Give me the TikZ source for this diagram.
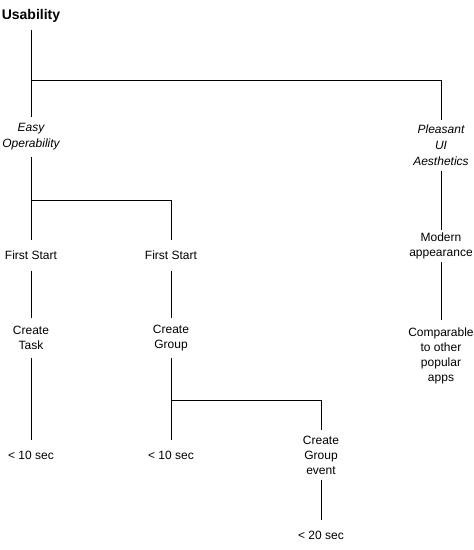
\documentclass[tikz,border=0pt]{standalone}
\usepackage{fontspec}
\setmainfont{Liberation Sans}
\tikzset{
  lbl/.style={align=center, inner sep=0pt, font=\fontsize{12}{15}\selectfont},
  crit/.style={lbl, font=\fontsize{12}{16}\selectfont\itshape},
  link/.style={line width=0.9pt}
}

\begin{document}
\begin{tikzpicture}[x=1pt,y=-1pt]
            \useasboundingbox (0,0) rectangle (474,550);
            \node[lbl,font=\fontsize{14}{16}\selectfont\bfseries,minimum height=28pt] (use) at (31,16) {Usability};
            \node[crit,minimum height=40pt] (easy) at (31,137) {Easy\\Operability};
            \node[crit,minimum height=50pt] (pleasant) at (441,145.5) {Pleasant\\UI\\Aesthetics};
            \node[lbl,minimum height=32pt] (modern) at (441,246) {Modern\\appearance};
            \node[lbl,minimum height=72pt] (comp) at (441,356) {Comparable\\to other\\popular\\apps};
            \node[lbl,minimum height=30pt] (fs1) at (31,255.5) {First Start};
            \node[lbl,minimum height=30pt] (fs2) at (171,255.5) {First Start};
            \node[lbl,minimum height=40pt] (task) at (31,338) {Create\\Task};
            \node[lbl,minimum height=40pt] (group) at (171,338) {Create\\Group};
            \node[lbl,minimum height=30pt] (t1) at (31,455.5) {< 10 sec};
            \node[lbl,minimum height=30pt] (t2) at (171,455.5) {< 10 sec};
            \node[lbl,minimum height=50pt] (event) at (321,455) {Create\\Group\\event};
            \node[lbl,minimum height=30pt] (t3) at (321,535) {< 20 sec};
            
            \coordinate (b1) at (31,80);
            \coordinate (b2) at (31,200);
            \coordinate (b3) at (171,400);
            
            \draw[link] (use) -- (easy);
            \draw[link] (b1) -| (pleasant);
            \draw[link] (pleasant) -- (modern);
            \draw[link] (modern) -- (comp);
            \draw[link] (easy) -- (fs1);
            \draw[link] (b2) -| (fs2);
            \draw[link] (fs1) -- (task);
            \draw[link] (fs2) -- (group);
            \draw[link] (task) -- (t1);
            \draw[link] (group) -- (t2);
            \draw[link] (b3) -| (event);
            \draw[link] (event) -- (t3);
        \end{tikzpicture}
\end{document}
